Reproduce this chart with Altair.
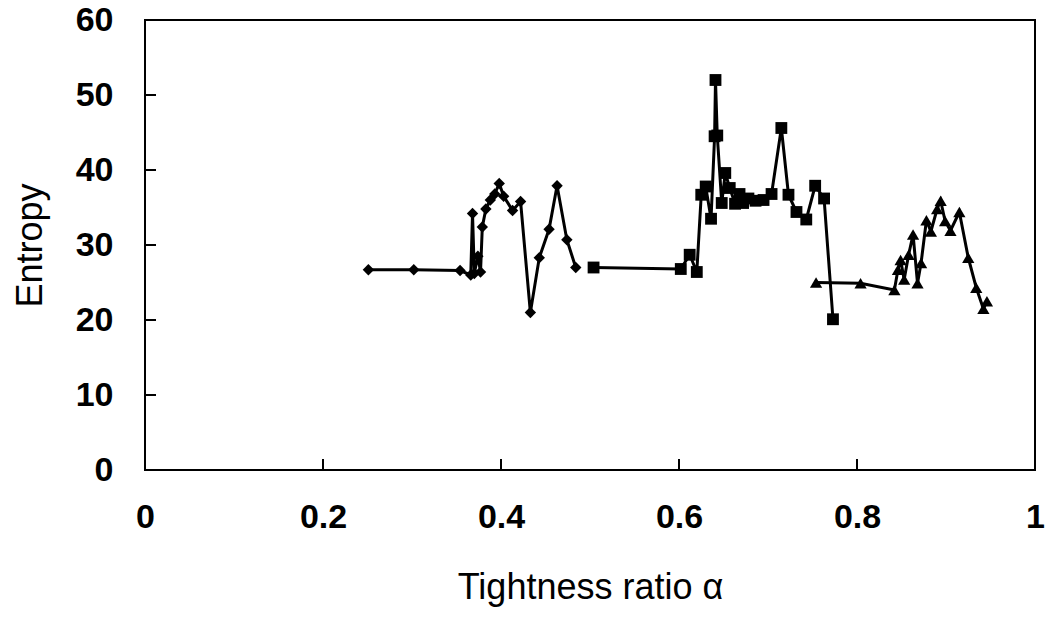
import altair as alt
import pandas as pd

# Series 1 (diamonds)
d_x = [0.251, 0.302, 0.354, 0.366, 0.368, 0.370, 0.374, 0.377, 0.379, 0.383, 0.388,
       0.393, 0.398, 0.403, 0.413, 0.422, 0.433, 0.443, 0.454, 0.463, 0.474, 0.484]
d_y = [26.7, 26.7, 26.6, 26.0, 34.2, 26.2, 28.5, 26.4, 32.4, 34.8, 36.0,
       36.8, 38.2, 36.5, 34.6, 35.8, 21.0, 28.3, 32.1, 37.9, 30.7, 27.0]

# Series 2 (squares)
s_x = [0.504, 0.602, 0.612, 0.620, 0.625, 0.630, 0.636, 0.640, 0.641, 0.643, 0.648,
       0.652, 0.657, 0.663, 0.668, 0.672, 0.678, 0.686, 0.695, 0.704, 0.715, 0.723,
       0.732, 0.743, 0.753, 0.763, 0.773]
s_y = [27.0, 26.8, 28.7, 26.4, 36.7, 37.8, 33.5, 44.5, 52.0, 44.6, 35.6,
       39.6, 37.6, 35.5, 36.8, 35.6, 36.2, 35.9, 36.0, 36.8, 45.6, 36.7,
       34.4, 33.4, 37.9, 36.2, 20.1]

# Series 3 (triangles)
t_x = [0.754, 0.804, 0.842, 0.846, 0.849, 0.853, 0.858, 0.863, 0.868, 0.872, 0.878,
       0.883, 0.890, 0.894, 0.899, 0.905, 0.915, 0.925, 0.934, 0.942, 0.946]
t_y = [25.0, 24.9, 24.0, 26.7, 28.0, 25.4, 28.7, 31.4, 24.9, 27.6, 33.3,
       31.8, 34.8, 35.9, 33.2, 31.9, 34.4, 28.3, 24.3, 21.5, 22.5]

x_ticks = [0, 0.2, 0.4, 0.6, 0.8, 1]
y_ticks = [0, 10, 20, 30, 40, 50, 60]

rows = []
for name, xs, ys in [("d", d_x, d_y), ("s", s_x, s_y), ("t", t_x, t_y)]:
    for i, (a, b) in enumerate(zip(xs, ys)):
        rows.append({"series": name, "idx": i, "x": a, "y": b})
df = pd.DataFrame(rows)

FONT = "Liberation Sans Narrow, Arial Narrow, Liberation Sans"

xscale = alt.Scale(domain=[0, 1], nice=False, zero=False)
yscale = alt.Scale(domain=[0, 60], nice=False)

xaxis = alt.Axis(values=x_ticks, title="Tightness ratio  α", domain=False, ticks=False, grid=False,
                 labelFont=FONT, labelFontSize=34, labelFontWeight="bold", labelColor="black",
                 labelPadding=30, labelFlush=False,
                 labelExpr="datum.value == 0 ? '0' : datum.value == 1 ? '1' : format(datum.value, '.1f')",
                 titleFont=FONT, titleFontSize=36, titleFontWeight="normal", titleColor="black",
                 titlePadding=36)
yaxis = alt.Axis(values=y_ticks, title="Entropy", domain=False, ticks=False, grid=False,
                 labelFont=FONT, labelFontSize=34, labelFontWeight="bold", labelColor="black",
                 labelPadding=32, labelFlush=False,
                 titleFont=FONT, titleFontSize=36, titleFontWeight="normal", titleColor="black",
                 titlePadding=26)

base = alt.Chart(df)

lines = base.mark_line(color="black", strokeWidth=3).encode(
    x=alt.X("x:Q", scale=xscale, axis=xaxis),
    y=alt.Y("y:Q", scale=yscale, axis=yaxis),
    detail="series:N",
    order="idx:Q",
)

points = base.mark_point(filled=True, color="black", opacity=1).encode(
    x=alt.X("x:Q", scale=xscale),
    y=alt.Y("y:Q", scale=yscale),
    shape=alt.Shape("series:N", scale=alt.Scale(domain=["d", "s", "t"],
                                                range=["diamond", "square", "triangle-up"]),
                    legend=None),
    size=alt.Size("series:N", scale=alt.Scale(domain=["d", "s", "t"], range=[130, 150, 150]),
                  legend=None),
)

ytick_df = pd.DataFrame({"v": y_ticks[1:-1]})
xtick_df = pd.DataFrame({"v": x_ticks[1:-1]})

yticks = alt.Chart(ytick_df).mark_rule(color="black", strokeWidth=2).encode(
    y=alt.Y("v:Q", scale=yscale),
    x=alt.value(0), x2=alt.value(11),
)
xticks = alt.Chart(xtick_df).mark_rule(color="black", strokeWidth=2).encode(
    x=alt.X("v:Q", scale=xscale),
    y=alt.value(450), y2=alt.value(439),
)

chart = alt.layer(lines, points, yticks, xticks).properties(
    width=890, height=450,
    autosize=alt.AutoSizeParams(type="none"),
    padding={"left": 145, "top": 20, "right": 10, "bottom": 153},
    background="white",
).configure_view(stroke="black", strokeWidth=2)

chart.save("out.html", embed_options={"renderer": "svg", "actions": False})
